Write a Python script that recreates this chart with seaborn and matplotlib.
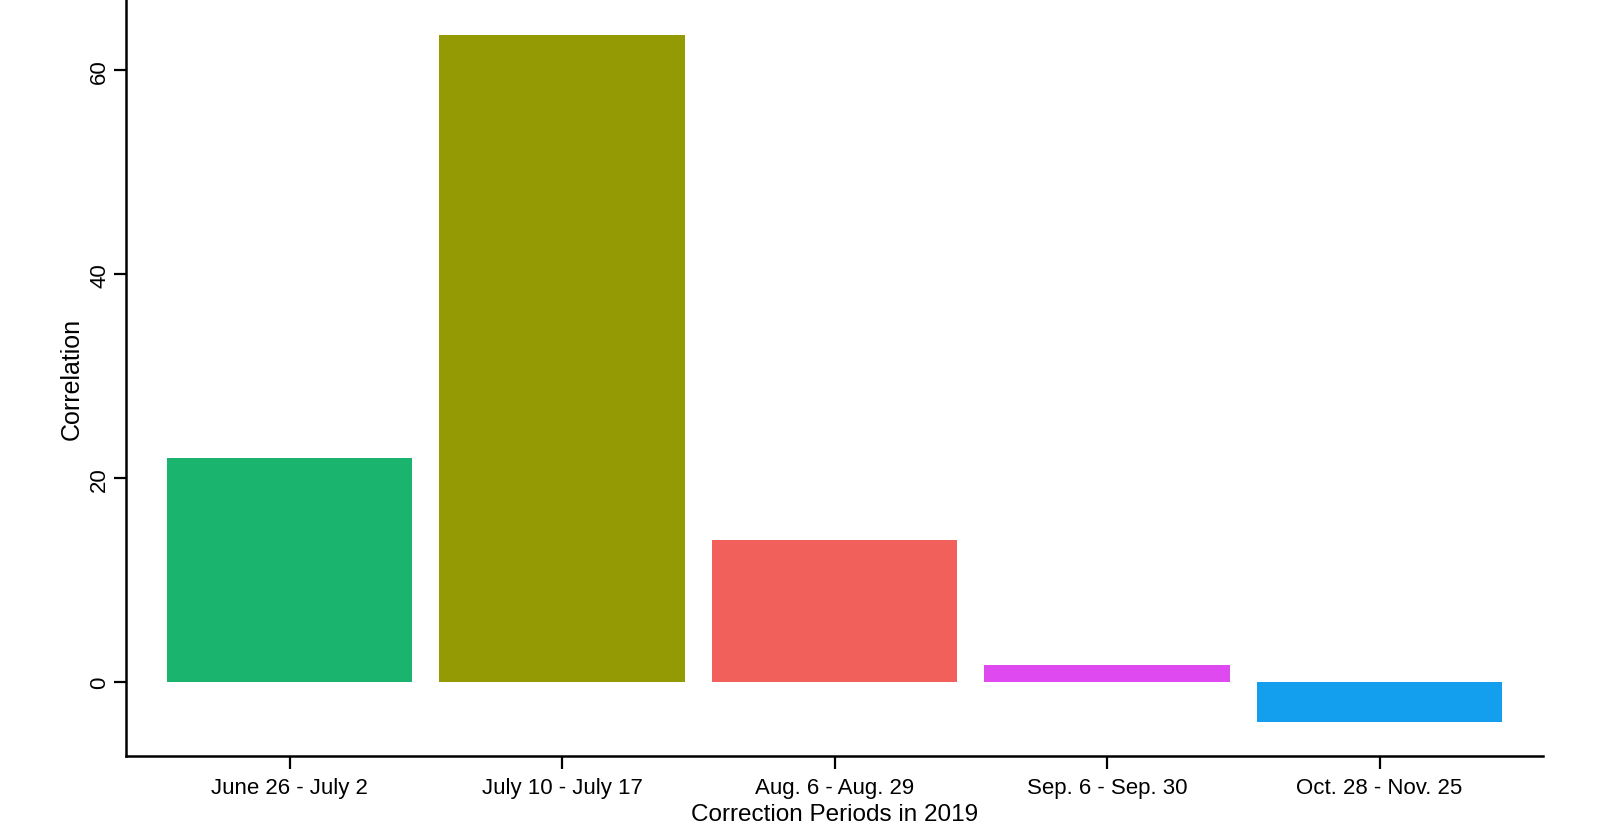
import matplotlib
matplotlib.use("Agg")
import matplotlib.pyplot as plt
import seaborn as sns
import pandas as pd

periods = ["June 26 - July 2", "July 10 - July 17", "Aug. 6 - Aug. 29",
           "Sep. 6 - Sep. 30", "Oct. 28 - Nov. 25"]
correlation = [22.0, 63.5, 13.9, 1.7, -3.9]
colors = ["#1AB46E", "#939A03", "#F2605B", "#DF4AF0", "#139FEE"]
y_ticks = [0, 20, 40, 60]

sns.set_theme(style="white")
plt.rcParams["font.family"] = ["Liberation Sans", "DejaVu Sans"]

df = pd.DataFrame({"period": periods, "corr": correlation})

fig = plt.figure(figsize=(16, 8.29), dpi=100)
ax = fig.add_axes([126 / 1600, 72 / 829, (1543 - 126) / 1600, 757 / 829])

sns.barplot(data=df, x="period", y="corr", hue="period", order=periods,
            hue_order=periods, palette=colors, width=0.9, saturation=1,
            legend=False, ax=ax, linewidth=0)

ax.set_xlim(-0.6, 4.6)
ax.set_ylim(-7.25, 67)
ax.set_yticks(y_ticks)
ax.set_yticklabels([str(t) for t in y_ticks], rotation=90, va="center")

for s in ["top", "right"]:
    ax.spines[s].set_visible(False)
for s in ["left", "bottom"]:
    ax.spines[s].set_color("black")
    ax.spines[s].set_linewidth(1.8)

ax.tick_params(axis="both", which="both", length=9, width=1.6, color="black",
               labelsize=16, labelcolor="black", direction="out", pad=6,
               left=True, bottom=True)
ax.tick_params(axis="y", pad=2.5)

ax.set_xlabel("Correction Periods in 2019", fontsize=17.5, color="black", labelpad=4)
ax.set_ylabel("Correlation", fontsize=18, color="black", labelpad=3.5)

fig.savefig("out.png", dpi=100)
